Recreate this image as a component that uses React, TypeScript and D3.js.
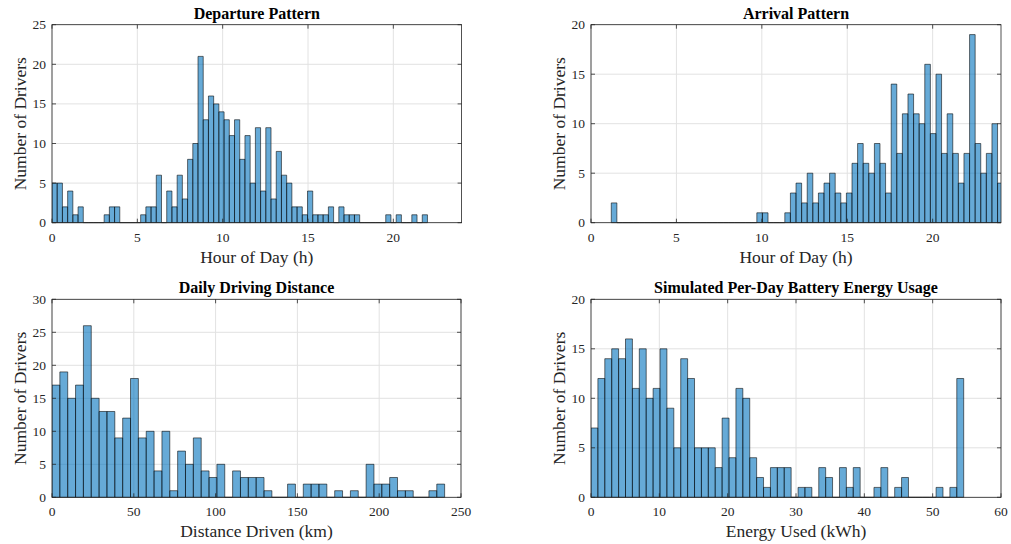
import * as d3 from "d3"

// histogram counts (one entry per bin)
const departureCounts = [
  5, 5, 2, 4, 1, 2, 0, 0, 0, 0, 1, 2, 2, 0, 0, 0, 0, 1, 2, 2, 6, 0, 4, 2, 6, 3, 8, 10, 21, 13,
  16, 15, 14, 13, 11, 13, 8, 11, 5, 12, 4, 12, 3, 9, 6, 5, 2, 2, 1, 4, 1, 1, 1, 2, 0, 2, 1, 1, 1, 0,
  0, 0, 0, 0, 1, 0, 1, 0, 0, 1, 0, 1,
]
const arrivalCounts = [
  2, 0, 0, 0, 0, 0, 0, 0, 0, 0, 0, 0, 0, 0, 0, 0, 0, 0, 0, 0, 0, 0, 0, 0, 0, 0, 1, 1, 0, 0,
  0, 1, 3, 4, 2, 5, 2, 3, 4, 5, 3, 2, 3, 6, 8, 6, 5, 8, 6, 3, 14, 7, 11, 13, 11, 10, 16, 9, 15, 7,
  11, 7, 4, 7, 19, 8, 5, 7, 10, 4,
]
const distanceCounts = [
  17, 19, 15, 17, 26, 15, 13, 13, 9, 12, 18, 9, 10, 4, 10, 1, 7, 5, 9, 4, 3, 5, 0, 4, 3, 3, 3, 1, 0, 0,
  2, 0, 2, 2, 2, 0, 1, 0, 1, 0, 5, 2, 2, 3, 1, 1, 0, 0, 1, 2,
]
const energyCounts = [
  7, 12, 14, 15, 14, 16, 11, 15, 10, 11, 15, 9, 5, 14, 12, 5, 5, 5, 3, 8, 4, 11, 10, 4, 2, 1, 3, 3, 3, 0,
  1, 1, 0, 3, 2, 0, 3, 1, 3, 0, 0, 1, 3, 0, 1, 2, 0, 0, 0, 0, 1, 0, 1, 12,
]

// bin edges: [first edge, bin width]
const departureBins = [0, 22 / 72]
const arrivalBins = [1.187, 0.3277]
const distanceBins = [0, 4.8]
const energyBins = [0, 54.54 / 54]

const hourTicks = [0, 5, 10, 15, 20]
const distanceTicks = [0, 50, 100, 150, 200, 250]
const energyTicks = [0, 10, 20, 30, 40, 50, 60]

const FONT = "'Liberation Serif', 'Times New Roman', serif"
const AXIS = "#262626"

interface PanelProps {
  left: number
  top: number
  width: number
  height: number
  title: string
  xLabel: string
  counts: number[]
  bins: number[]
  xDomain: [number, number]
  xTicks: number[]
  yMax: number
  clipId: string
}

function Panel({ left, top, width, height, title, xLabel, counts, bins, xDomain, xTicks, yMax, clipId }: PanelProps) {
  const x = d3.scaleLinear().domain(xDomain).range([0, width])
  const y = d3.scaleLinear().domain([0, yMax]).range([height, 0])
  const yTicks = y.ticks(yMax / 5)
  const tl = 4

  return (
    <g transform={`translate(${left},${top})`}>
      <defs>
        <clipPath id={clipId}>
          <rect x={0} y={-1} width={width} height={height + 2} />
        </clipPath>
      </defs>
      {/* grid */}
      {xTicks.map((t) => (
        <line key={"gx" + t} x1={x(t)} x2={x(t)} y1={0} y2={height} stroke="#e2e2e2" strokeWidth={1} />
      ))}
      {yTicks.map((t) => (
        <line key={"gy" + t} x1={0} x2={width} y1={y(t)} y2={y(t)} stroke="#e2e2e2" strokeWidth={1} />
      ))}
      {/* bars */}
      <g clipPath={`url(#${clipId})`}>
        {counts.map((c, i) => {
          const x0 = x(bins[0] + i * bins[1])
          const x1 = x(bins[0] + (i + 1) * bins[1])
          const y0 = y(0)
          const y1 = y(c)
          return (
            <path
              key={i}
              d={`M${x0},${y0}V${y1}H${x1}V${y0}Z`}
              fill="#0072BD"
              fillOpacity={0.6}
              stroke="#000"
              strokeOpacity={0.8}
              strokeWidth={0.7}
            />
          )
        })}
      </g>
      {/* box */}
      <rect x={0} y={0} width={width} height={height} fill="none" stroke={AXIS} strokeWidth={0.8} />
      {xTicks.map((t) => (
        <g key={"tx" + t}>
          <line x1={x(t)} x2={x(t)} y1={height} y2={height - tl} stroke={AXIS} strokeWidth={0.8} />
          <line x1={x(t)} x2={x(t)} y1={0} y2={tl} stroke={AXIS} strokeWidth={0.8} />
          <text x={x(t)} y={height + 19} textAnchor="middle" fontSize={13.5} fill={AXIS} fontFamily={FONT}>
            {t}
          </text>
        </g>
      ))}
      {yTicks.map((t) => (
        <g key={"ty" + t}>
          <line x1={0} x2={tl} y1={y(t)} y2={y(t)} stroke={AXIS} strokeWidth={0.8} />
          <line x1={width} x2={width - tl} y1={y(t)} y2={y(t)} stroke={AXIS} strokeWidth={0.8} />
          <text x={-6} y={y(t) + 4.5} textAnchor="end" fontSize={13.5} fill={AXIS} fontFamily={FONT}>
            {t}
          </text>
        </g>
      ))}
      <text x={width / 2} y={-6} textAnchor="middle" fontSize={16} fontWeight="bold" fill="#000" fontFamily={FONT}>
        {title}
      </text>
      <text x={width / 2} y={height + 40} textAnchor="middle" fontSize={17.5} fill={AXIS} fontFamily={FONT}>
        {xLabel}
      </text>
      <text
        transform={`translate(${-26},${height / 2}) rotate(-90)`}
        textAnchor="middle"
        fontSize={17.5}
        fill={AXIS}
        fontFamily={FONT}
      >
        Number of Drivers
      </text>
    </g>
  )
}

export default function App() {
  return (
    <svg width={1011} height={544} style={{ position: "absolute", left: 0, top: 0, background: "#fff" }}>
      <Panel
        left={52}
        top={24.7}
        width={409.6}
        height={198}
        title="Departure Pattern"
        xLabel="Hour of Day (h)"
        counts={departureCounts}
        bins={departureBins}
        xDomain={[0, 24]}
        xTicks={hourTicks}
        yMax={25}
        clipId="c1"
      />
      <Panel
        left={591}
        top={24.7}
        width={410}
        height={198}
        title="Arrival Pattern"
        xLabel="Hour of Day (h)"
        counts={arrivalCounts}
        bins={arrivalBins}
        xDomain={[0, 24]}
        xTicks={hourTicks}
        yMax={20}
        clipId="c2"
      />
      <Panel
        left={52}
        top={299.3}
        width={409}
        height={198}
        title="Daily Driving Distance"
        xLabel="Distance Driven (km)"
        counts={distanceCounts}
        bins={distanceBins}
        xDomain={[0, 250]}
        xTicks={distanceTicks}
        yMax={30}
        clipId="c3"
      />
      <Panel
        left={591}
        top={299.3}
        width={410}
        height={198}
        title="Simulated Per-Day Battery Energy Usage"
        xLabel="Energy Used (kWh)"
        counts={energyCounts}
        bins={energyBins}
        xDomain={[0, 60]}
        xTicks={energyTicks}
        yMax={20}
        clipId="c4"
      />
    </svg>
  )
}
